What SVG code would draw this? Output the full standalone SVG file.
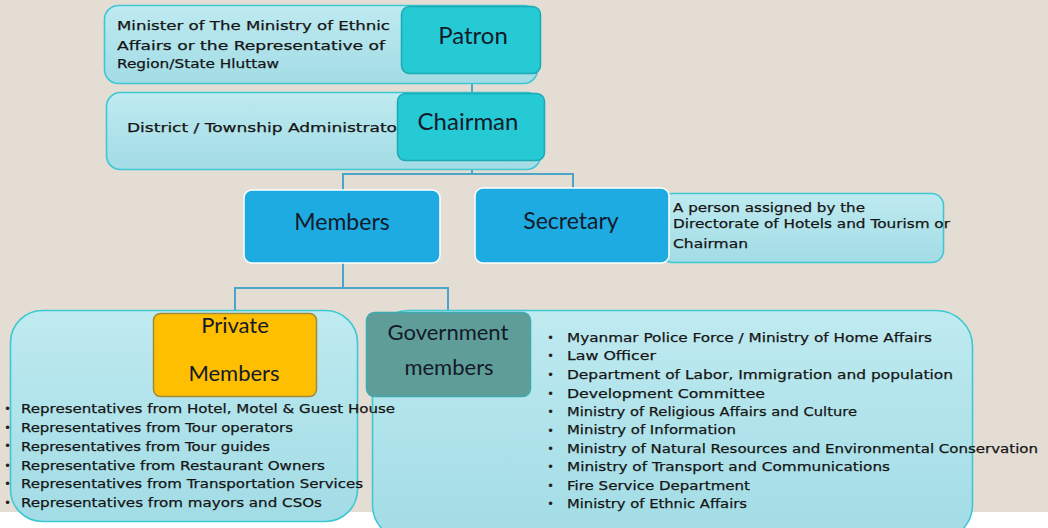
<svg xmlns="http://www.w3.org/2000/svg" width="1048" height="528" viewBox="0 0 1048 528">
<defs>
<linearGradient id="lg" x1="0" y1="0" x2="0" y2="1">
<stop offset="0" stop-color="#bfeaf0"/>
<stop offset="1" stop-color="#a2dce5"/>
</linearGradient>
<style>
.info{fill:url(#lg);stroke:#3fc7d3;stroke-width:1.6}
.cyan{fill:#25cad5;stroke:#1ba9b3;stroke-width:1.5}
.blue{fill:#1eabe1;stroke:#ffffff;stroke-width:1.5}
.title{font-family:Lato,"Liberation Sans",sans-serif;fill:#141a2a;text-anchor:middle}
.t{font-family:"DejaVu Sans","Liberation Sans",sans-serif;font-size:13px;fill:#141414;stroke:#141414;stroke-width:0.25}
.b{font-family:"DejaVu Sans",sans-serif;font-size:12px;fill:#222}
.conn{fill:none;stroke:#4aa5c8;stroke-width:2}
</style>
</defs>
<rect x="0" y="0" width="1048" height="528" fill="#ffffff"/>
<rect x="0" y="0" width="1048" height="512" fill="#e3ddd3"/>

<g id="connectors">
<path class="conn" d="M472,74 V93"/>
<path class="conn" d="M472,160 V174 M343,190 V174 H573 V188"/>
<path class="conn" d="M343,263 V288 M235,313 V288 H448 V312"/>
</g>

<g id="patron">
<rect class="info" x="104.5" y="5.5" width="433" height="78" rx="14"/>
<text class="t" x="117" y="30" font-size="14" textLength="273" lengthAdjust="spacingAndGlyphs">Minister of The  Ministry of Ethnic</text>
<text class="t" x="117" y="50" font-size="14" textLength="268" lengthAdjust="spacingAndGlyphs">Affairs or the Representative of</text>
<text class="t" x="117" y="68" font-size="14" textLength="162" lengthAdjust="spacingAndGlyphs">Region/State  Hluttaw</text>
<rect class="cyan" x="401.5" y="6.5" width="139" height="67" rx="8"/>
<text class="title" x="473" y="44" font-size="24">Patron</text>
</g>

<g id="chairman">
<rect class="info" x="106.5" y="92.5" width="434" height="77" rx="14"/>
<text class="t" x="127" y="132" font-size="14" textLength="277" lengthAdjust="spacingAndGlyphs">District / Township Administrator</text>
<rect class="cyan" x="397.5" y="93.5" width="147" height="67" rx="8"/>
<text class="title" x="468" y="130" font-size="24">Chairman</text>
</g>

<g id="members">
<rect class="blue" x="244" y="190" width="196" height="73" rx="8"/>
<text class="title" x="342" y="230" font-size="23">Members</text>
</g>

<g id="secretary">
<rect class="info" x="660.5" y="193.5" width="283" height="69" rx="12"/>
<rect class="blue" x="475" y="188" width="194" height="75" rx="8"/>
<text class="title" x="571" y="229" font-size="23">Secretary</text>
<text class="t" x="673" y="212" textLength="192" lengthAdjust="spacingAndGlyphs">A person assigned by the</text>
<text class="t" x="673" y="228" textLength="277" lengthAdjust="spacingAndGlyphs">Directorate of Hotels and Tourism  or</text>
<text class="t" x="673" y="248" textLength="75" lengthAdjust="spacingAndGlyphs">Chairman</text>
</g>

<g id="private-members">
<rect class="info" x="10.5" y="310.5" width="347" height="211" rx="32"/>
<rect x="153.5" y="313.5" width="163" height="83" rx="7" fill="#fdbf00" stroke="#9e8a3c" stroke-width="1.5"/>
<text class="title" x="235" y="333" font-size="22">Private</text>
<text class="title" x="234" y="381" font-size="22">Members</text>
</g>

<g id="government-members">
<rect class="info" x="372.5" y="310.5" width="600" height="230" rx="36"/>
<rect x="366.5" y="312.5" width="164" height="84" rx="8" fill="#5f9e98" stroke="#3fa9b0" stroke-width="1.5"/>
<text class="title" x="448" y="340" font-size="22">Government</text>
<text class="title" x="449" y="375" font-size="22">members</text>
<g class="b">
<text x="547" y="342">•</text>
<text x="547" y="360">•</text>
<text x="547" y="379">•</text>
<text x="547" y="398">•</text>
<text x="547" y="416">•</text>
<text x="547" y="435">•</text>
<text x="547" y="453">•</text>
<text x="547" y="471">•</text>
<text x="547" y="490">•</text>
<text x="547" y="508">•</text>
</g>
<text class="t" x="567" y="342" textLength="365" lengthAdjust="spacingAndGlyphs">Myanmar Police Force  / Ministry of Home Affairs</text>
<text class="t" x="567" y="360" textLength="89" lengthAdjust="spacingAndGlyphs">Law Officer</text>
<text class="t" x="567" y="379" textLength="386" lengthAdjust="spacingAndGlyphs">Department of Labor, Immigration and population</text>
<text class="t" x="567" y="398" textLength="198" lengthAdjust="spacingAndGlyphs">Development Committee</text>
<text class="t" x="567" y="416" textLength="290" lengthAdjust="spacingAndGlyphs">Ministry of Religious Affairs and Culture</text>
<text class="t" x="567" y="434" textLength="169" lengthAdjust="spacingAndGlyphs">Ministry of Information</text>
<text class="t" x="567" y="453" textLength="471" lengthAdjust="spacingAndGlyphs">Ministry of Natural Resources and Environmental Conservation</text>
<text class="t" x="567" y="471" textLength="323" lengthAdjust="spacingAndGlyphs">Ministry of Transport and Communications</text>
<text class="t" x="567" y="490" textLength="183" lengthAdjust="spacingAndGlyphs">Fire Service Department</text>
<text class="t" x="567" y="508" textLength="180" lengthAdjust="spacingAndGlyphs">Ministry of Ethnic Affairs</text>
</g>

<g id="private-list">
<g class="b">
<text x="4" y="413">•</text>
<text x="4" y="432">•</text>
<text x="4" y="450">•</text>
<text x="4" y="470">•</text>
<text x="4" y="488">•</text>
<text x="4" y="507">•</text>
</g>
<text class="t" x="21" y="413" textLength="374" lengthAdjust="spacingAndGlyphs">Representatives from Hotel, Motel &amp; Guest House</text>
<text class="t" x="21" y="432" textLength="272" lengthAdjust="spacingAndGlyphs">Representatives from Tour operators</text>
<text class="t" x="21" y="451" textLength="249" lengthAdjust="spacingAndGlyphs">Representatives from Tour guides</text>
<text class="t" x="21" y="470" textLength="304" lengthAdjust="spacingAndGlyphs">Representative from Restaurant Owners</text>
<text class="t" x="21" y="488" textLength="342" lengthAdjust="spacingAndGlyphs">Representatives from Transportation Services</text>
<text class="t" x="21" y="507" textLength="301" lengthAdjust="spacingAndGlyphs">Representatives from mayors and CSOs</text>
</g>
</svg>
